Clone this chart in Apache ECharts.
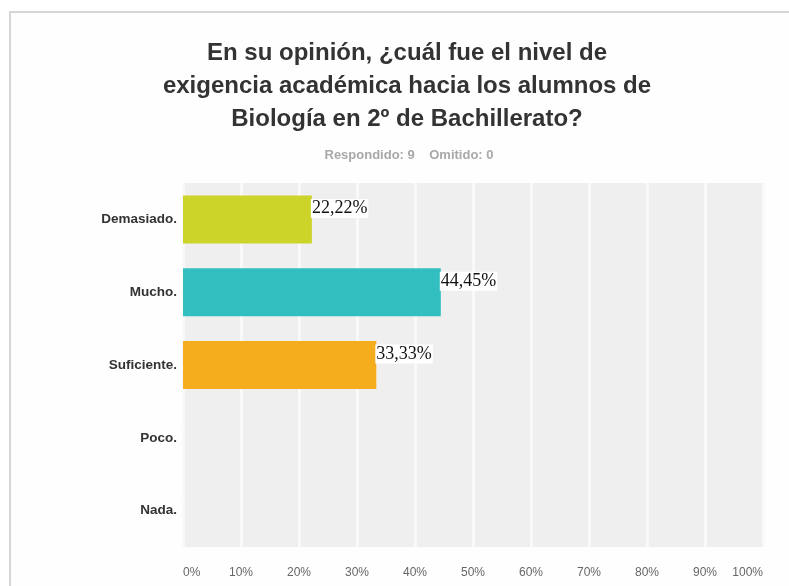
<!DOCTYPE html>
<html>
<head>
<meta charset="utf-8">
<style>
  html, body { margin: 0; padding: 0; background: #ffffff; }
  #chart { width: 789px; height: 586px; }
</style>
<script src="https://cdn.jsdelivr.net/npm/echarts@6/dist/echarts.min.js"></script>
</head>
<body>
<div id="chart"></div>
<script>
// Survey answers and their share of respondents (%)
const categories = ['Demasiado.', 'Mucho.', 'Suficiente.', 'Poco.', 'Nada.'];
const percentages = [22.22, 44.45, 33.33, 0, 0];
const barColors = ['#ccd42a', '#33bfbf', '#f5ad1e', '#999999', '#999999'];
const tickValues = [0, 10, 20, 30, 40, 50, 60, 70, 80, 90, 100];

const titleText = 'En su opinión, ¿cuál fue el nivel de\nexigencia académica hacia los alumnos de\nBiología en 2º de Bachillerato?';
const subtitleText = 'Respondido: 9    Omitido: 0';

const chart = echarts.init(document.getElementById('chart'), null, { renderer: 'canvas' });

const formatPct = v => v.toFixed(2).replace('.', ',') + '%';

chart.setOption({
  animation: false,
  backgroundColor: '#ffffff',
  graphic: [{
    type: 'rect',
    left: 9, top: 11,
    shape: { width: 800, height: 600 },
    style: { fill: '#fefefe', stroke: '#d6d6d6', lineWidth: 2 },
    z: -10
  }],
  title: [{
    text: titleText,
    left: 402,
    top: 32,
    textAlign: 'center',
    textStyle: {
      fontFamily: 'Liberation Sans, Arial, sans-serif',
      fontSize: 24,
      fontWeight: 'bold',
      color: '#333333',
      lineHeight: 33
    }
  }, {
    text: subtitleText,
    left: 404,
    top: 144,
    textAlign: 'center',
    textStyle: {
      fontFamily: 'Liberation Sans, Arial, sans-serif',
      fontSize: 13,
      fontWeight: 'bold',
      color: '#a8a8a8'
    }
  }],
  grid: {
    left: 183, top: 183, width: 580, height: 364,
    show: true,
    backgroundColor: '#efefef',
    borderWidth: 0,
    containLabel: false
  },
  xAxis: {
    type: 'value',
    min: 0, max: 100, interval: 10,
    axisLine: { show: false },
    axisTick: { show: false },
    splitLine: { show: true, lineStyle: { color: '#f9f9f9', width: 3 } },
    axisLabel: {
      margin: 20,
      fontFamily: 'Liberation Sans, Arial, sans-serif',
      fontSize: 12,
      color: '#666666',
      alignMinLabel: 'left',
      alignMaxLabel: 'right',
      formatter: v => (tickValues.includes(v) ? v + '%' : '')
    }
  },
  yAxis: {
    type: 'category',
    data: categories,
    inverse: true,
    axisLine: { show: false },
    axisTick: { show: false },
    splitLine: { show: false },
    axisLabel: {
      margin: 6,
      fontFamily: 'Liberation Sans, Arial, sans-serif',
      fontSize: 13.5,
      fontWeight: 'bold',
      color: '#333333'
    }
  },
  series: [{
    type: 'bar',
    data: percentages.map((v, i) => ({ value: v, itemStyle: { color: barColors[i] } })),
    barWidth: 48,
    label: {
      show: true,
      position: 'right',
      distance: 0,
      offset: [-1, -11],
      fontFamily: 'Liberation Serif, DejaVu Serif, serif',
      fontSize: 18,
      color: '#111111',
      backgroundColor: '#ffffff',
      padding: [1, 1, 0, 1],
      formatter: p => (p.value > 0 ? formatPct(p.value) : '')
    }
  }]
});
</script>
</body>
</html>
